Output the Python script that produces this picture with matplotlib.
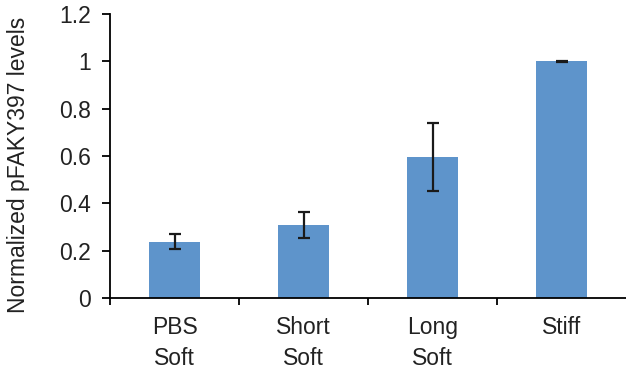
import matplotlib
matplotlib.use("Agg")
import matplotlib.pyplot as plt
import numpy as np

# data
groups = ["PBS\nSoft", "Short\nSoft", "Long\nSoft", "Stiff"]
levels = [0.238, 0.308, 0.597, 1.0]
errors = [0.032, 0.056, 0.144, 0.002]
yticks = [0, 0.2, 0.4, 0.6, 0.8, 1, 1.2]
ytick_labels = ["0", "0.2", "0.4", "0.6", "0.8", "1", "1.2"]

plt.rcParams['font.family'] = ['Liberation Sans', 'DejaVu Sans']

fig = plt.figure(figsize=(6.26, 3.76), dpi=100)
ax = fig.add_axes([110 / 626, 78 / 376, 516 / 626, 284 / 376])

x = np.arange(len(groups))
ax.bar(x, levels, width=0.39, color="#5e94cb", zorder=2)
ax.errorbar(x, levels, yerr=errors, fmt="none", ecolor="#1a1a1a",
            elinewidth=1.6, capsize=4, capthick=1.6, zorder=3)

ax.set_xlim(-0.5, 3.5)
ax.set_ylim(0, 1.2)
ax.set_yticks(yticks)
ax.set_yticklabels(ytick_labels)
ax.set_xticks(np.arange(-0.5, 3.0, 1.0))
ax.set_xticklabels([])
ax.set_xticks(x, minor=True)
ax.set_xticklabels(groups, minor=True, linespacing=1.45)
ax.tick_params(axis="x", which="minor", length=0, pad=13, labelsize=16.5,
               labelcolor="#222222")
ax.tick_params(axis="x", which="major", length=5, width=1.3, direction="out")
ax.tick_params(axis="y", length=6, width=1.3, direction="out", labelsize=16.5,
               pad=8, labelcolor="#222222")

for s in ["top", "right"]:
    ax.spines[s].set_visible(False)
ax.spines["left"].set_linewidth(1.3)
ax.spines["bottom"].set_linewidth(1.3)

ax.set_ylabel("Normalized pFAKY397 levels", fontsize=16.5, color="#222222")
ax.yaxis.set_label_coords(-80 / 516, 0.47)

fig.savefig("out.png", dpi=100)
